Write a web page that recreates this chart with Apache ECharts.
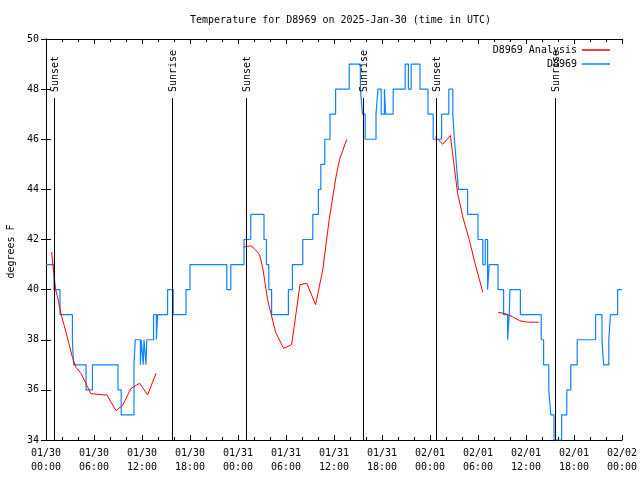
<!DOCTYPE html>
<html>
<head>
<meta charset="utf-8">
<script src="https://cdn.jsdelivr.net/npm/echarts@6/dist/echarts.min.js"></script>
<style>html,body{margin:0;padding:0;background:#fff}#c{width:640px;height:480px}</style>
</head>
<body>
<div id="c"></div>
<script>
// ---- data (hours since 2025-01-30 00:00 UTC) ----
const xTickLabels = ['01/30\n00:00','01/30\n06:00','01/30\n12:00','01/30\n18:00',
  '01/31\n00:00','01/31\n06:00','01/31\n12:00','01/31\n18:00',
  '02/01\n00:00','02/01\n06:00','02/01\n12:00','02/01\n18:00','02/02\n00:00'];

// observed station temperature (step changes): time [h], temp [F]
const obsTime = [0,1.0,1.75,3.3,3.45,5.0,5.8,9.0,9.4,11.0,11.15,11.8,11.9,12.15,12.25,12.5,12.6,
  13.45,13.8,13.95,15.2,15.9,17.5,18.0,22.6,23.1,24.75,25.6,27.25,27.55,27.85,28.2,30.3,30.8,
  32.1,33.35,34.05,34.35,34.85,35.5,36.2,37.9,39.3,39.55,39.9,41.25,41.5,41.9,42.3,42.45,43.4,
  44.9,45.3,45.65,46.75,47.75,48.4,49.45,50.35,50.85,51.05,51.3,51.55,52.7,54.0,54.6,54.9,55.2,
  55.4,56.5,57.2,57.7,57.9,58.0,59.3,61.9,62.2,62.85,63.1,63.5,64.45,65.1,65.6,66.4,68.7,69.5,
  69.7,70.35,70.55,71.45,72.0];
const obsTemp = [41,40,39,38,37,36,37,36,35,37,38,37,38,37,38,37,38,
  39,38,39,40,39,40,41,40,41,42,43,42,41,40,39,40,41,
  42,43,44,45,46,47,48,49,48,47,46,47,48,47,48,47,48,
  49,48,49,48,47,46,47,48,47,46,45,44,43,42,41,42,40,
  41,40,39,38,39,40,39,38,37,36,35,34,35,36,37,38,39,38,
  37,38,39,40,40];

// analysis temperature (null = gap)
const anaTime = [0.7,1.2,1.45,1.9,2.5,3.3,3.75,4.4,5.0,5.6,5.8,7.1,7.6,8.75,9.6,10.6,11.0,11.7,12.7,13.75,
  19.0,
  24.7,25.6,26.0,26.7,27.1,27.7,28.7,29.7,30.7,31.25,31.75,32.6,33.7,34.6,35.4,36.25,36.7,37.6,
  43.0,
  48.65,49.6,50.55,50.95,51.45,52.1,52.9,53.75,54.6,
  55.5,
  56.5,57.5,58.3,59.2,60.2,61.6];
const anaTemp = [41.5,40.0,39.7,39.0,38.3,37.3,36.9,36.65,36.25,35.85,35.82,35.8,35.8,35.17,35.4,36.05,36.13,36.26,35.8,36.66,
  null,
  41.7,41.75,41.65,41.4,40.85,39.6,38.3,37.66,37.8,39.05,40.2,40.25,39.4,40.8,42.8,44.5,45.2,46.0,
  null,
  46.1,45.8,46.15,45.1,43.85,42.9,42.0,40.9,39.9,
  null,
  39.1,39.03,38.92,38.76,38.7,38.7];

// sunrise / sunset markers
const sunTime = [0.95, 15.7, 25.0, 39.6, 48.8, 63.6];
const sunLabel = ['Sunset','Sunrise','Sunset','Sunrise','Sunset','Sunrise'];

// ---- chart ----
const FONT = 'DejaVu Sans Mono';
const X_MIN = 0, X_MAX = 72, Y_MIN = 34, Y_MAX = 50;

const chart = echarts.init(document.getElementById('c'), null, {renderer: 'canvas'});

const axisCommon = {
  axisLine: {show: true, lineStyle: {color: '#000', width: 1}},
  axisTick: {show: true, inside: true, length: 5, lineStyle: {color: '#000'}},
  splitLine: {show: false}
};

const option = {
  backgroundColor: '#fff',
  animation: false,
  title: {
    text: 'Temperature for D8969 on 2025-Jan-30 (time in UTC)',
    left: 185, top: 10,
    textStyle: {fontFamily: FONT, fontSize: 10, fontWeight: 'normal', color: '#000'}
  },
  legend: [
    {data: ['D8969 Analysis'], right: 30, top: 45, padding: 0, align: 'right', icon: 'rect',
     itemWidth: 28, itemHeight: 1.5, textStyle: {fontFamily: FONT, fontSize: 10, color: '#000'}},
    {data: ['D8969'], right: 30, top: 59, padding: 0, align: 'right', icon: 'rect',
     itemWidth: 28, itemHeight: 1.5, textStyle: {fontFamily: FONT, fontSize: 10, color: '#000'}}
  ],
  grid: {left: 46, right: 18, top: 39, bottom: 40, containLabel: false, outerBoundsMode: 'none'},
  xAxis: [
    Object.assign({}, axisCommon, {
      type: 'value', min: X_MIN, max: X_MAX, interval: 6, position: 'bottom',
      minorTick: {show: true, splitNumber: 3, length: 3, lineStyle: {color: '#000'}},
      axisLabel: {show: true, margin: 6, fontFamily: FONT, fontSize: 10, color: '#000', lineHeight: 14,
        showMinLabel: true, showMaxLabel: true, hideOverlap: false,
        formatter: v => xTickLabels[Math.round(v / 6)]}
    }),
    Object.assign({}, axisCommon, {
      type: 'value', min: X_MIN, max: X_MAX, interval: 6, position: 'top',
      minorTick: {show: true, splitNumber: 3, length: 3, lineStyle: {color: '#000'}},
      axisLabel: {show: false}
    })
  ],
  yAxis: [
    Object.assign({}, axisCommon, {
      type: 'value', min: Y_MIN, max: Y_MAX, interval: 2, position: 'left',
      name: 'degrees F', nameLocation: 'middle', nameGap: 30, nameRotate: 90,
      nameTextStyle: {fontFamily: FONT, fontSize: 10, color: '#000', padding: [0, 24, 0, 0]},
      axisLabel: {show: true, margin: 7, fontFamily: FONT, fontSize: 10, color: '#000'}
    }),
    Object.assign({}, axisCommon, {
      type: 'value', min: Y_MIN, max: Y_MAX, interval: 2, position: 'right',
      axisLabel: {show: false}
    })
  ],
  series: [
    {
      name: 'D8969 Analysis', type: 'line', xAxisIndex: 0, yAxisIndex: 0,
      data: anaTime.map((t, i) => [t, anaTemp[i]]),
      showSymbol: false, symbol: 'none', connectNulls: false,
      lineStyle: {color: '#ff0000', width: 1}, itemStyle: {color: '#ff0000'}, z: 4
    },
    {
      name: 'D8969', type: 'line', xAxisIndex: 0, yAxisIndex: 0, step: 'end',
      data: obsTime.map((t, i) => [t, obsTemp[i]]),
      showSymbol: false, symbol: 'none',
      lineStyle: {color: '#0a84ff', width: 1.2}, itemStyle: {color: '#0a84ff'}, z: 3
    },
    {
      name: 'sun', type: 'custom', xAxisIndex: 0, yAxisIndex: 0,
      data: sunTime.map(t => [t]),
      encode: {x: 0},
      silent: true, z: 5,
      renderItem: function (params, api) {
        const t = api.value(0);
        const pb = api.coord([t, Y_MIN]);
        const pt = api.coord([t, Y_MAX]);
        const x = Math.round(pb[0]) + 0.5;
        const lineTop = pt[1] + 59;
        return {
          type: 'group',
          children: [
            {type: 'line', shape: {x1: x, y1: pb[1], x2: x, y2: lineTop},
             style: {stroke: '#000', lineWidth: 1}},
            {type: 'text', x: x + 1, y: lineTop - 6, rotation: Math.PI / 2,
             style: {text: sunLabel[params.dataIndex], font: '10px ' + FONT, fill: '#000',
                     align: 'left', verticalAlign: 'middle'}}
          ]
        };
      }
    }
  ]
};
chart.setOption(option);
</script>
</body>
</html>
